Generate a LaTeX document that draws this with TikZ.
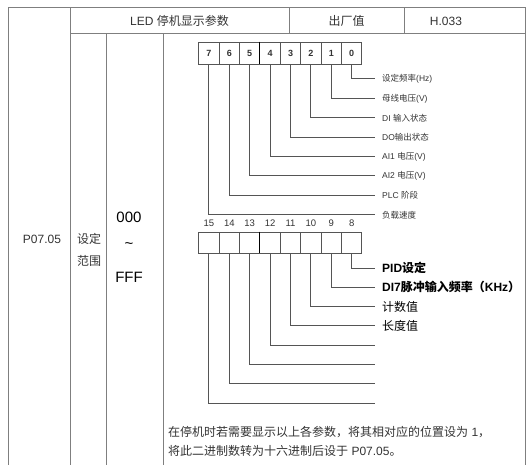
\documentclass[tikz,border=0pt]{standalone}
\usepackage{fontspec}
\setmainfont{Liberation Sans}
\newfontfamily\cjk{Noto Sans CJK SC}
\usetikzlibrary{positioning}
\definecolor{tblgray}{HTML}{7F7F7F}
\definecolor{txtdark}{HTML}{333333}
\definecolor{leadgray}{HTML}{555555}

\begin{document}
\begin{tikzpicture}[x=1pt, y=-1pt,
  rule/.style={draw=tblgray, line width=1pt},
  bitcell/.style={draw=leadgray, line width=0.9pt, minimum width=20.4pt, minimum height=22pt, inner sep=0pt, text=txtdark, font=\fontsize{9}{10}\selectfont\bfseries},
  bitnum/.style={inner sep=0pt, text=txtdark, font=\fontsize{9.5}{10}\selectfont},
  lead/.style={draw=leadgray, line width=1pt},
  tag/.style={anchor=west, inner sep=0pt, text=txtdark, font=\fontsize{8.5}{9}\selectfont},
  bigtag/.style={anchor=west, inner sep=0pt, text=black, font=\fontsize{12}{13}\selectfont},
  txt/.style={inner sep=0pt, text=txtdark, font=\fontsize{12}{14}\selectfont},
]
  \useasboundingbox (0,0) rectangle (527,465);

  % Table rules
  \draw[rule] (8,465) -- (8,8) -- (525,8) -- (525,465);
  \draw[rule] (70,8) -- (70,465);
  \draw[rule] (70,34) -- (525,34);
  \draw[rule] (289,8) -- (289,34);
  \draw[rule] (404,8) -- (404,34);
  \draw[rule] (106,34) -- (106,465);
  \draw[rule] (163,34) -- (163,465);

  % Header and left cells
  \node[txt] (hdname) at (179.5,21) {LED {\cjk 停机显示参数}};
  \node[txt] (hdfact) at (346.5,21) {\cjk 出厂值};
  \node[txt] (hdval) at (446,21) {H.033};
  \node[txt] (code) at (42,239) {P07.05};
  \node[txt, align=center, font=\fontsize{12}{22}\selectfont\cjk] (range) at (89,250) {设定\\范围};
  \node[txt, font=\fontsize{15}{16}\selectfont, text=black] (lo) at (129,217) {000};
  \node[txt, font=\fontsize{15}{16}\selectfont, text=black] (sep) at (129,246) {\textasciitilde};
  \node[txt, font=\fontsize{15}{16}\selectfont, text=black] (hi) at (129,277) {FFF};

  % Low byte: bits 0-7
  \foreach \i in {0,...,7}
    \node[bitcell] (t\i) at ({351.7-20.4*\i},53) {\i};
  \draw[line width=1.3pt] (t4.north west) -- (t4.south west);
  \foreach \i/\txt in {0/{{\cjk 设定频率}(Hz)},1/{{\cjk 母线电压}(V)},2/{DI {\cjk 输入状态}},3/{DO{\cjk 输出状态}},
                      4/{AI1 {\cjk 电压}(V)},5/{AI2 {\cjk 电压}(V)},6/{PLC {\cjk 阶段}},7/{\cjk 负载速度}} {
    \coordinate (e\i) at (375,{79+19.4*\i});
    \node[tag, right=7pt of e\i] (lt\i) {\txt};
    \draw[lead] (t\i.south) |- (e\i);
  }

  % High byte: bits 8-15
  \foreach \i in {8,...,15} {
    \node[bitcell, minimum height=21pt] (b\i) at ({351.7-20.4*(\i-8)},242.5) {};
    \node[bitnum, above=5pt of b\i] (n\i) {\i};
    \coordinate (e\i) at (375,{268+19.3*(\i-8)});
    \draw[lead] (b\i.south) |- (e\i);
  }
  \draw[line width=1.3pt] (b12.north west) -- (b12.south west);
  \node[bigtag, font=\fontsize{12}{13}\selectfont\bfseries, right=7pt of e8] (lb8) {PID{\cjk 设定}};
  \node[bigtag, font=\fontsize{12}{13}\selectfont\bfseries, right=7pt of e9] (lb9) {DI7{\cjk 脉冲输入频率（}KHz{\cjk ）}};
  \node[bigtag, font=\fontsize{12}{13}\selectfont\cjk, right=7pt of e10] (lb10) {计数值};
  \node[bigtag, font=\fontsize{12}{13}\selectfont\cjk, right=7pt of e11] (lb11) {长度值};

  % Note
  \node[txt, anchor=west, align=left, font=\fontsize{12}{19}\selectfont] (note) at (168,441.5)
    {{\cjk 在停机时若需要显示以上各参数，将其相对应的位置设为} 1{\cjk ，}\\{\cjk 将此二进制数转为十六进制后设于} P07.05{\cjk 。}};
\end{tikzpicture}
\end{document}
